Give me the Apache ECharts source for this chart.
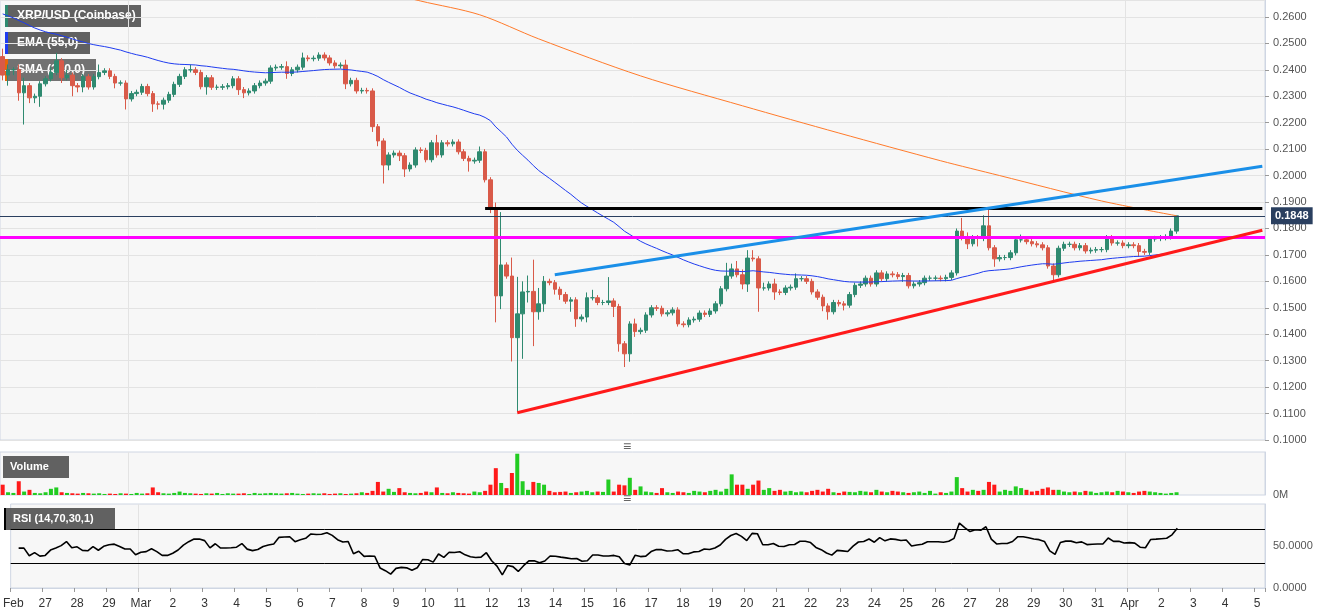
<!DOCTYPE html>
<html>
<head>
<meta charset="utf-8">
<script src="https://cdn.jsdelivr.net/npm/echarts@6/dist/echarts.min.js"></script>
<style>
  html, body { margin: 0; padding: 0; background: #fff; }
  #chart { width: 1331px; height: 615px; }
</style>
</head>
<body>
<div id="chart"></div>
<script>
// 4h candles, Feb 26 -> Apr 2
const firstOpen = 0.245;
const closes = [
  0.238,0.240,0.240,0.2313,0.234,0.2294,0.230,0.2347,0.2366,0.239,
  0.2434,0.237,0.238,0.234,0.2335,0.2374,0.2335,0.2374,0.239,0.2396,
  0.2375,0.235,0.235,0.229,0.231,0.2315,0.2337,0.231,0.2271,0.227,
  0.2285,0.2307,0.2345,0.2375,0.240,0.240,0.239,0.2336,0.237,0.2334,
  0.2334,0.2336,0.234,0.2366,0.2325,0.2313,0.232,0.234,0.235,0.2357,
  0.2407,0.241,0.2412,0.2386,0.240,0.241,0.2445,0.2442,0.2444,0.2456,
  0.2445,0.2426,0.2415,0.2418,0.2347,0.236,0.232,0.2322,0.232,0.2185,
  0.2131,0.204,0.2078,0.2085,0.2075,0.2025,0.204,0.2097,0.2095,0.206,
  0.2124,0.2078,0.2124,0.212,0.2127,0.209,0.2065,0.2055,0.2058,0.209,
  0.1984,0.1878,0.1545,0.1662,0.162,0.1387,0.1477,0.156,0.1562,0.1485,
  0.1515,0.160,0.1595,0.157,0.155,0.1525,0.153,0.1458,0.1465,0.1538,
  0.1538,0.152,0.152,0.1526,0.1505,0.1364,0.1326,0.1439,0.141,0.1415,
  0.1473,0.150,0.1498,0.1477,0.1481,0.1492,0.1439,0.1436,0.1454,0.1457,
  0.148,0.1475,0.1488,0.1515,0.1572,0.162,0.1647,0.1625,0.159,0.1688,
  0.1685,0.1575,0.1575,0.159,0.156,0.1558,0.1575,0.1578,0.161,0.161,
  0.160,0.156,0.154,0.1507,0.1485,0.152,0.1515,0.151,0.155,0.1585,
  0.159,0.1612,0.159,0.1632,0.161,0.1628,0.1625,0.1618,0.1622,0.1583,
  0.159,0.1595,0.1612,0.1612,0.1612,0.161,0.1615,0.1632,0.179,0.1765,
  0.1742,0.1765,0.1762,0.181,0.1727,0.1685,0.169,0.169,0.1708,0.1757,
  0.1757,0.175,0.1742,0.1738,0.1727,0.1658,0.1625,0.1725,0.174,0.174,
  0.1727,0.1735,0.1715,0.1718,0.172,0.172,0.1765,0.1745,0.1745,0.1735,
  0.1738,0.1735,0.1713,0.171,0.176,0.1762,0.1765,0.1768,0.179,0.1848
];
// wick lengths above / below the body, in 0.001
const upWick = [
  3,2,1,2,3,1,1,1,1,2, 3,1,2,1,1,1,1,1,3,1, 1,1,1,1,1,1,1,1,1,1, 1,1,1,1,1,2,1,1,1,1,
  1,1,1,1,1,1,1,1,1,1, 1,1,1,2,1,1,2,1,1,1, 1,1,1,1,2,1,1,1,1,1, 1,1,1,1,1,1,1,1,1,1,
  1,3,1,1,1,1,1,1,1,2, 1,1,2,20,1,7,14,4,6,12, 6,2,1,1,1,1,1,1,1,2, 3,1,1,9,1,1,1,1,2,1,
  1,1,1,1,1,1,1,1,1,1, 1,1,1,1,1,5,2,3,2,3, 3,1,2,1,2,1,1,1,2,1, 1,1,1,1,1,1,1,1,1,1,
  1,1,1,1,1,1,1,1,1,1, 1,1,1,1,1,1,1,1,1,5, 2,1,1,4,6,1,1,1,1,1, 2,1,1,1,1,1,1,1,1,1,
  1,1,1,1,1,1,1,1,1,1, 1,1,1,1,1,1,1,1,1,0
];
const downWick = [
  2,4,2,3,12,2,2,4,1,1, 1,2,1,4,2,2,1,1,1,1, 1,2,1,4,1,1,1,1,3,2, 2,1,1,1,1,1,1,1,3,1,
  1,1,1,1,2,2,1,1,1,1, 1,1,1,2,1,1,1,1,1,1, 1,1,1,1,2,1,1,1,1,2, 2,7,2,1,2,3,1,1,1,1,
  1,1,1,1,1,1,1,4,1,1, 1,2,10,5,1,9,28,17,4,13, 3,3,1,2,2,1,4,3,1,2, 1,1,1,1,4,3,5,3,2,1,
  1,1,1,1,1,1,1,1,1,1, 1,1,1,1,1,1,1,1,2,3, 1,9,1,1,3,1,1,1,1,1, 1,1,1,2,3,1,1,2,1,1,
  1,1,1,1,1,1,1,1,2,1, 1,1,1,1,1,1,1,1,1,1, 2,1,3,1,1,3,1,1,1,1, 1,1,1,1,1,1,3,1,1,1,
  1,1,1,1,1,1,1,1,1,1, 1,1,2,1,1,1,1,1,1,1
];
const volumes = [
  30,8,6,40,10,15,6,5,8,18, 22,8,6,5,4,6,5,4,5,3, 4,3,5,4,3,6,4,5,22,8, 5,4,6,10,6,5,4,3,5,4,
  6,3,5,4,4,5,3,6,4,5, 6,5,4,5,6,4,3,4,5,4, 5,3,4,5,3,4,5,8,6,12, 38,10,18,9,20,8,6,5,6,10,
  8,22,6,5,8,6,5,4,10,8, 12,30,78,35,20,64,120,40,15,38, 35,30,12,8,9,10,6,8,10,12, 8,10,9,45,10,30,28,50,15,25,
  10,8,6,20,8,6,10,8,6,12, 10,8,12,15,10,18,60,30,30,18, 30,42,15,20,12,15,10,12,8,10, 8,12,15,10,18,8,6,10,9,8,
  12,10,8,15,10,8,12,10,8,6, 8,10,6,12,4,8,6,10,52,20, 10,15,12,15,38,30,10,15,12,25, 20,15,10,12,18,22,15,15,10,8,
  10,8,12,10,6,8,10,8,12,10, 8,6,10,12,10,8,6,4,6,8
];
// SMA(200) at a few candles
const smaIdx = [70, 78, 89, 100, 119, 138, 156, 175, 186, 205, 219];
const smaVal = [0.270, 0.266, 0.2608, 0.2517, 0.2377, 0.2264, 0.2161, 0.2056, 0.200, 0.1904, 0.1848];
const dayLabels = ['Feb','27','28','29','Mar','2','3','4','5','6','7','8','9','10','11','12','13','14','15','16',
  '17','18','19','20','21','22','23','24','25','26','27','28','29','30','31','Apr','2','3','4','5'];
const emaStart = 0.262;
const lastPrice = 0.1848;

const N = 236;
const cats = [];
for (let i = 0; i < N; i++) cats.push(i % 6 === 0 ? (dayLabels[i / 6] || '') : '');

const ohlc = [], volData = [];
closes.forEach((c, i) => {
  const o = i === 0 ? firstOpen : closes[i - 1];
  const h = Math.max(o, c) + upWick[i] / 1000;
  const l = Math.min(o, c) - downWick[i] / 1000;
  ohlc.push([o, c, l, h]);
  volData.push({ value: volumes[i], itemStyle: { color: c >= o ? '#22cc22' : '#ff1a1a' } });
});

// EMA 55
const ema = [];
let e = emaStart;
const k = 2 / 56;
closes.forEach(c => { e = c * k + e * (1 - k); ema.push(+e.toFixed(5)); });

// RSI 14 (Wilder)
const rsi = [];
let ag = 0, al = 0;
for (let i = 1; i <= 14; i++) {
  const d = closes[i] - closes[i - 1];
  if (d > 0) ag += d; else al -= d;
}
ag /= 14; al /= 14;
rsi.push(null);
for (let i = 1; i < closes.length; i++) {
  const d = closes[i] - closes[i - 1];
  ag = (ag * 13 + Math.max(d, 0)) / 14;
  al = (al * 13 + Math.max(-d, 0)) / 14;
  rsi.push(+(100 - 100 / (1 + ag / (al || 1e-9))).toFixed(2));
}

const sma = new Array(closes.length).fill(null);
smaIdx.forEach((ix, j) => { sma[ix] = smaVal[j]; });

const monthLine = (i) => i === 24 || i === 210;
const panelBg = '#f7f7f7';
const frame = '#cfd6e3';
const solid = (color, width) => ({ color, width, type: 'solid' });

const chart = echarts.init(document.getElementById('chart'));
chart.setOption({
  animation: false,
  backgroundColor: '#ffffff',
  textStyle: { fontFamily: 'Arial, "Liberation Sans", sans-serif' },
  grid: [
    { left: 0, top: 0, width: 1265, height: 440, show: true, backgroundColor: panelBg, borderColor: frame },
    { left: 0, top: 452, width: 1265, height: 43, show: true, backgroundColor: panelBg, borderColor: frame },
    { left: 0, top: 504, width: 1265, height: 84, show: true, backgroundColor: panelBg, borderColor: frame }
  ],
  xAxis: [0, 1, 2].map(g => ({
    type: 'category', gridIndex: g, data: cats, boundaryGap: true,
    axisLine: { show: g === 2, lineStyle: { color: frame } },
    axisTick: { show: g === 2, interval: (i) => i % 6 === 0, length: 4, lineStyle: { color: '#999' } },
    axisLabel: { show: g === 2, interval: (i) => i % 6 === 0, color: '#333', fontSize: 12, margin: 10 },
    splitLine: { show: true, interval: monthLine, lineStyle: { color: '#e3e3e3' } }
  })),
  yAxis: [
    { type: 'value', gridIndex: 0, position: 'right', min: 0.1, max: 0.2664, interval: 0.01,
      axisLine: { show: true, lineStyle: { color: frame } }, axisTick: { show: true, length: 4, lineStyle: { color: '#999' } },
      axisLabel: { color: '#555', fontSize: 11, showMaxLabel: false, formatter: v => v.toFixed(4) },
      splitLine: { lineStyle: { color: '#e3e3e3' } } },
    { type: 'value', gridIndex: 1, position: 'right', min: 0, max: 125, interval: 125,
      axisLine: { show: true, lineStyle: { color: frame } },
      axisLabel: { color: '#555', fontSize: 11, showMaxLabel: false, formatter: v => v === 0 ? '0M' : '' },
      splitLine: { show: false } },
    { type: 'value', gridIndex: 2, position: 'right', min: 0, max: 100, interval: 50,
      axisLine: { show: true, lineStyle: { color: frame } },
      axisLabel: { color: '#555', fontSize: 11, showMaxLabel: false, formatter: v => v.toFixed(4) },
      splitLine: { show: false } }
  ],
  series: [
    { type: 'candlestick', data: ohlc, barWidth: 4,
      itemStyle: { color: '#2f8a70', color0: '#d95a49', borderColor: '#2f8a70', borderColor0: '#d95a49', borderWidth: 1 },
      markLine: {
        symbol: 'none', silent: true,
        data: [
          [{ coord: [90, 0.1875], lineStyle: solid('#000', 3) }, { coord: [235, 0.1875] }],
          [{ yAxis: 0.1768, x: 0, lineStyle: solid('#ff00ff', 3) }, { yAxis: 0.1768, x: 1265 }],
          [{ yAxis: lastPrice, x: 0, lineStyle: solid('#2a3f5f', 1),
             label: { show: true, position: 'end', formatter: lastPrice.toFixed(4), color: '#fff', fontWeight: 'bold',
                      fontSize: 11, backgroundColor: '#2a3f5f', padding: [3, 4], distance: 6 } },
           { yAxis: lastPrice, x: 1265 }],
          [{ coord: [103, 0.1625], lineStyle: solid('#1a8fe8', 3) }, { coord: [235, 0.2035] }],
          [{ coord: [96, 0.1103], lineStyle: solid('#ff1a1a', 3) }, { coord: [235, 0.1793] }]
        ],
        label: { show: false }
      }
    },
    { type: 'line', data: ema, symbol: 'none', lineStyle: { color: '#1f3cf0', width: 1 }, z: 3 },
    { type: 'line', data: sma, symbol: 'none', connectNulls: true, smooth: 0.3, lineStyle: { color: '#ff7a2a', width: 1 }, z: 3 },
    { type: 'bar', xAxisIndex: 1, yAxisIndex: 1, data: volData, barWidth: 4 },
    { type: 'line', xAxisIndex: 2, yAxisIndex: 2, data: rsi, symbol: 'none', lineStyle: { color: '#000', width: 1.6 },
      markLine: { symbol: 'none', silent: true, label: { show: false }, lineStyle: solid('#000', 1),
        data: [{ yAxis: 70 }, { yAxis: 30 }] } }
  ],
  graphic: [
    { type: 'rect', shape: { x: 5, y: 5, width: 136, height: 22 }, style: { fill: 'rgba(70,70,70,0.85)' } },
    { type: 'rect', shape: { x: 5, y: 5, width: 3, height: 22 }, style: { fill: '#2f8a70' } },
    { type: 'text', x: 17, y: 10, style: { text: 'XRP/USD (Coinbase)', fill: '#fff', font: 'bold 12px Arial, sans-serif' } },
    { type: 'rect', shape: { x: 5, y: 32, width: 85, height: 22 }, style: { fill: 'rgba(70,70,70,0.85)' } },
    { type: 'rect', shape: { x: 5, y: 32, width: 3, height: 22 }, style: { fill: '#1f3cf0' } },
    { type: 'text', x: 17, y: 37, style: { text: 'EMA (55,0)', fill: '#fff', font: 'bold 12px Arial, sans-serif' } },
    { type: 'rect', shape: { x: 5, y: 59, width: 91, height: 22 }, style: { fill: 'rgba(70,70,70,0.75)' } },
    { type: 'rect', shape: { x: 5, y: 59, width: 3, height: 22 }, style: { fill: '#e8650a' } },
    { type: 'text', x: 17, y: 64, style: { text: 'SMA (200,0)', fill: '#fff', font: 'bold 12px Arial, sans-serif' } },
    { type: 'rect', shape: { x: 3, y: 456, width: 66, height: 22 }, style: { fill: 'rgba(80,80,80,0.9)' } },
    { type: 'text', x: 10, y: 461, style: { text: 'Volume', fill: '#fff', font: 'bold 11px Arial, sans-serif' } },
    { type: 'rect', shape: { x: 4, y: 508, width: 111, height: 22 }, style: { fill: 'rgba(80,80,80,0.9)' } },
    { type: 'rect', shape: { x: 4, y: 508, width: 2, height: 22 }, style: { fill: '#000' } },
    { type: 'text', x: 13, y: 513, style: { text: 'RSI (14,70,30,1)', fill: '#fff', font: 'bold 11px Arial, sans-serif' } },
    { type: 'text', x: 623, y: 440, style: { text: '≡', fill: '#666', font: '14px Arial' } },
    { type: 'text', x: 623, y: 492, style: { text: '≡', fill: '#666', font: '14px Arial' } }
  ]
});
</script>
</body>
</html>
